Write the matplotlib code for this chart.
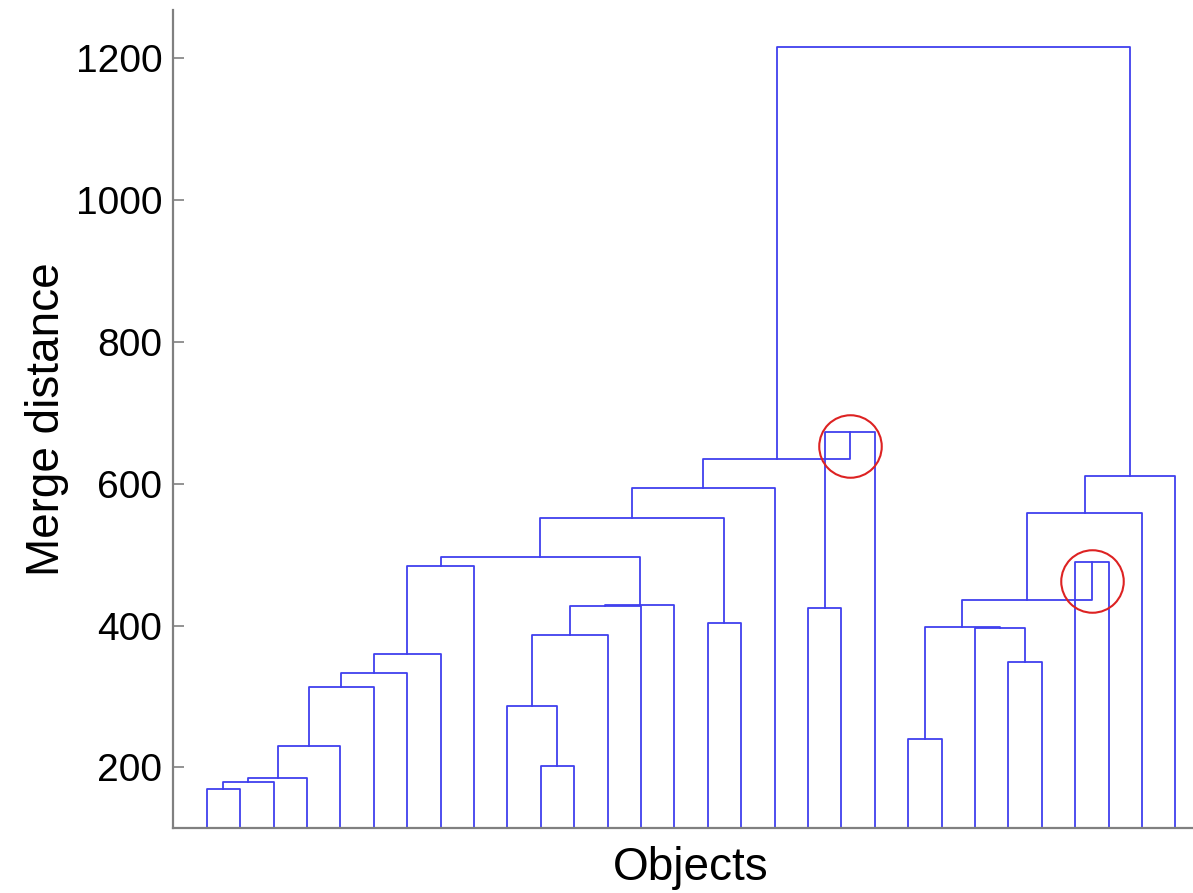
import numpy as np
import matplotlib
matplotlib.use('Agg')
import matplotlib.pyplot as plt

plt.rcParams['font.family'] = ['Liberation Sans', 'DejaVu Sans']

# linkage: leaves are 0..29, merge k creates cluster 30 + k
n_leaves = 30
merge_left = [0, 30, 31, 32, 33, 34, 35, 36, 10, 9, 39, 40, 41, 37, 15, 43, 45, 18, 47, 46,
              21, 24, 23, 50, 26, 53, 55, 56, 49]
merge_right = [1, 2, 3, 4, 5, 6, 7, 8, 11, 38, 12, 13, 14, 42, 16, 44, 17, 19, 20, 48,
               22, 25, 51, 52, 27, 54, 28, 29, 57]
merge_height = [169.0, 179.7, 184.5, 230.0, 313.7, 333.5, 360.3, 484.0, 201.8, 286.9, 386.7,
                428.0, 429.5, 497.1, 403.2, 552.1, 594.5, 424.3, 672.6, 635.4,
                239.5, 349.0, 396.1, 397.9, 490.1, 436.0, 558.4, 611.4, 1216.7]

y_ticks = [200, 400, 600, 800, 1000, 1200]

fig = plt.figure(figsize=(11.93, 8.93), dpi=100)
ax = fig.add_axes([0.1453, 0.0731, 0.8679, 0.9157])

line_color = '#4040ee'
pos = {i: i + 1.0 for i in range(n_leaves)}
height = {i: 0.0 for i in range(n_leaves)}
inversions = []

for k, (a, b, h) in enumerate(zip(merge_left, merge_right, merge_height)):
    xa, xb = pos[a], pos[b]
    ax.plot([xa, xa, xb, xb], [height[a], h, h, height[b]], color=line_color, lw=1.3)
    # a child merged higher than its parent -> non-monotonic link
    for c in (a, b):
        if height[c] > h:
            inversions.append((pos[c], (height[c] + h) / 2))
    node = n_leaves + k
    pos[node] = (xa + xb) / 2
    height[node] = h

# circle the inversions
for x, y in inversions:
    ax.plot(x, y, marker='o', markersize=45, markerfacecolor='none',
            markeredgecolor='#dd2222', markeredgewidth=1.5)

ax.set_xlim(0, 31)
ax.set_ylim(114.8, 1268.4)
ax.set_xticks([])
ax.set_yticks(y_ticks)
ax.tick_params(axis='y', direction='in', length=8, width=1.2, color='#808080',
               labelsize=28, pad=8)

for side in ['top', 'right']:
    ax.spines[side].set_visible(False)
for side in ['left', 'bottom']:
    ax.spines[side].set_color('#808080')
    ax.spines[side].set_linewidth(1.6)

ax.set_xlabel('Objects', fontsize=33, labelpad=13)
ax.set_ylabel('Merge distance', fontsize=33, labelpad=5)

fig.savefig('out.png', dpi=100)
